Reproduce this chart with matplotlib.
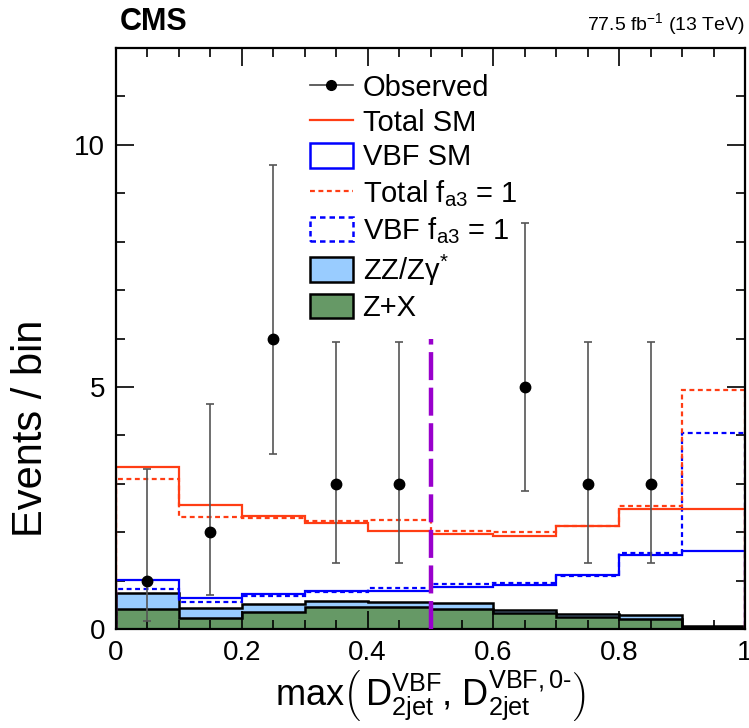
import numpy as np
import matplotlib
matplotlib.use("Agg")
import matplotlib.pyplot as plt
from matplotlib.lines import Line2D
from matplotlib.patches import Patch
from matplotlib.ticker import MultipleLocator

plt.rcParams['font.family'] = ['Liberation Sans', 'DejaVu Sans']
plt.rcParams['mathtext.fontset'] = 'custom'
plt.rcParams['mathtext.rm'] = 'Liberation Sans'
plt.rcParams['mathtext.it'] = 'Liberation Sans:italic'
plt.rcParams['mathtext.bf'] = 'Liberation Sans:bold'

# ---- data ----
bin_edges = np.linspace(0, 1, 11)
total_sm = [3.34, 2.57, 2.33, 2.18, 2.03, 1.97, 1.92, 2.13, 2.47, 2.47]
total_fa3 = [3.09, 2.31, 2.29, 2.23, 2.25, 2.03, 2.01, 2.12, 2.55, 4.94]
vbf_sm = [1.01, 0.65, 0.72, 0.78, 0.79, 0.87, 0.90, 1.12, 1.53, 1.62]
vbf_fa3 = [0.82, 0.55, 0.68, 0.77, 0.84, 0.92, 0.94, 1.09, 1.57, 4.05]
zz = [0.33, 0.21, 0.16, 0.12, 0.10, 0.12, 0.06, 0.07, 0.08, 0.03]
zx = [0.42, 0.23, 0.35, 0.46, 0.46, 0.42, 0.34, 0.25, 0.21, 0.04]
obs_x = [0.05, 0.15, 0.25, 0.35, 0.45, 0.65, 0.75, 0.85]
obs_y = [1, 2, 6, 3, 3, 5, 3, 3]
obs_lo = [0.17, 0.71, 3.62, 1.37, 1.37, 2.84, 1.37, 1.37]
obs_hi = [3.30, 4.64, 9.58, 5.92, 5.92, 8.38, 5.92, 5.92]
cut_x = 0.5
cut_top = 6.0

red = '#ff3d14'
blue = '#0000ff'
lightblue = '#99ccff'
green = '#669966'
purple = '#9900cc'

fig = plt.figure(figsize=(7.49, 7.28), dpi=100)
ax = fig.add_axes([116/749, 1-629/728, (745-116)/749, (629-48)/728])

zz_top = np.array(zz) + np.array(zx)
ax.stairs(zz_top, bin_edges, fill=True, color=lightblue, zorder=1)
ax.stairs(zz_top, bin_edges, color='black', lw=1.8, zorder=1.1)
ax.stairs(zx, bin_edges, fill=True, color=green, zorder=1.2)
ax.stairs(zx, bin_edges, color='black', lw=1.8, zorder=1.3)

ax.stairs(vbf_sm, bin_edges, color=blue, lw=1.6, zorder=2)
ax.stairs(vbf_fa3, bin_edges, color=blue, lw=1.6, ls=(0, (2.2, 1.6)), zorder=2)
ax.stairs(total_sm, bin_edges, color=red, lw=1.6, zorder=2)
ax.stairs(total_fa3, bin_edges, color=red, lw=1.6, ls=(0, (2.2, 1.6)), zorder=2)

ax.plot([cut_x, cut_x], [0, cut_top], color=purple, lw=3.2, ls=(0, (6.3, 1.7)), zorder=3)

obs_y_a = np.array(obs_y)
yerr = [obs_y_a - np.array(obs_lo), np.array(obs_hi) - obs_y_a]
ax.errorbar(obs_x, obs_y, yerr=yerr, fmt='o', color='black', ms=7.5,
            ecolor='#555555', elinewidth=1.2, capsize=3, capthick=1.2, zorder=4)

ax.set_xlim(0, 1)
ax.set_ylim(0, 12)
ax.xaxis.set_major_locator(MultipleLocator(0.2))
ax.xaxis.set_minor_locator(MultipleLocator(0.05))
ax.yaxis.set_major_locator(MultipleLocator(5))
ax.yaxis.set_minor_locator(MultipleLocator(1))
ax.set_xticks([0, 0.2, 0.4, 0.6, 0.8, 1.0])
ax.set_xticklabels(['0', '0.2', '0.4', '0.6', '0.8', '1'])
ax.tick_params(which='both', direction='in', top=True, right=True, labelsize=20, width=1.2)
ax.tick_params(which='major', length=13, pad=8)
ax.tick_params(which='minor', length=6.5)
for s in ax.spines.values():
    s.set_linewidth(1.6)

ax.set_ylabel('Events / bin', fontsize=30)
ax.yaxis.set_label_coords(-0.103, 0.345)
ax.set_xlabel(r'max$\left(\,\mathrm{D}^{\mathrm{VBF}}_{\mathrm{2jet}}\mathrm{,}\ \mathrm{D}^{\mathrm{VBF,0\text{-}}}_{\mathrm{2jet}}\right)$',
              fontsize=26)
ax.xaxis.set_label_coords(0.5, -0.067)

fig.text(120/749, 1-22/728, 'CMS', fontsize=22, fontweight='bold', va='center', ha='left')
fig.text(745/749, 1-24/728, r'77.5 fb$^{\mathrm{-1}}$ (13 TeV)', fontsize=14, va='center', ha='right')

handles = [
    Line2D([], [], color='#444444', marker='o', mfc='black', mec='black', ms=7, lw=1.2),
    Line2D([], [], color=red, lw=1.6),
    Patch(facecolor='none', edgecolor=blue, lw=1.8),
    Line2D([], [], color=red, lw=1.6, ls=(0, (2.2, 1.6))),
    Patch(facecolor='none', edgecolor=blue, lw=1.8, ls=(0, (2.2, 1.6))),
    Patch(facecolor=lightblue, edgecolor='black', lw=1.8),
    Patch(facecolor=green, edgecolor='black', lw=1.8),
]
labels = ['Observed', 'Total SM', 'VBF SM', r'Total f$_{\mathrm{a3}}$ = 1',
          r'VBF f$_{\mathrm{a3}}$ = 1', 'ZZ/Zγ$^{*}$', 'Z+X']
ax.legend(handles, labels, loc='upper left', bbox_to_anchor=(0.308, 0.955), frameon=False,
          fontsize=21, handlelength=1.47, handleheight=0.9, handletextpad=0.34,
          labelspacing=0.22, borderpad=0, borderaxespad=0)

fig.savefig('out.png', dpi=100)
